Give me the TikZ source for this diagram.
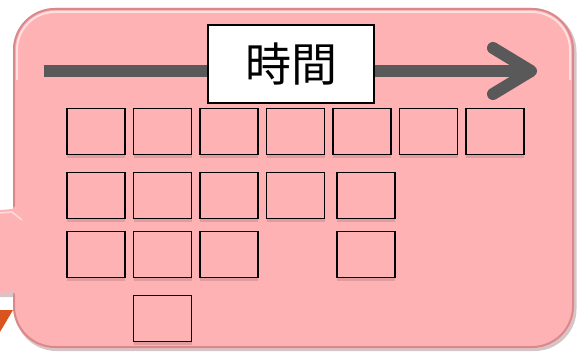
\documentclass[tikz,border=0pt]{standalone}
\usepackage{fontspec}
\newfontfamily\cjk{Noto Sans CJK JP}
\usetikzlibrary{shadows}
\definecolor{pinkfill}{HTML}{FFB2B4}
\definecolor{pinkrim}{HTML}{D9898C}
\definecolor{shadowc}{HTML}{8A5A5C}
\definecolor{arrowgray}{HTML}{595959}
\definecolor{tailorange}{HTML}{D9541E}
\tikzset{
  sq/.style={draw=black, line width=1.5pt, fill=pinkfill, minimum width=58pt, minimum height=46pt, inner sep=0pt,
    drop shadow={shadow xshift=0pt, shadow yshift=-3.5pt, opacity=0.12, fill=black}},
  timelabel/.style={draw=black, line width=1.5pt, fill=white, minimum width=166pt, minimum height=78pt, inner sep=0pt,
    font=\cjk\fontsize{46}{50}\selectfont},
  timeline/.style={arrowgray, line width=12pt},
  chevron/.style={arrowgray, line width=12pt, line cap=round, line join=round}
}
\begin{document}
\begin{tikzpicture}[x=1pt,y=-1pt]
\useasboundingbox (0,0) rectangle (577,355);
\clip (0,0) rectangle (577,355);
% orange fragment
\fill[tailorange] (0,310) -- (13,310) -- (0,332) -- cycle;
% shadows of callout
\fill[shadowc, opacity=0.35, rounded corners=42pt] (14.5,10) rectangle (576.5,351);
\fill[shadowc, opacity=0.35] (-10,214) -- (15,210) -- (15,297) -- (-10,297) -- cycle;
% callout body
\fill[pinkfill, rounded corners=42pt] (13,8) rectangle (574,348);
\draw[pinkrim, line width=2pt, rounded corners=41pt] (14,9) rectangle (573,347);
% callout tail
\fill[pinkfill] (-10,211) -- (12,209) -- (22,200) -- (22,302) -- (13,292) -- (-10,294) -- cycle;
\draw[white, opacity=0.5, line width=1.5pt] (0,213) -- (12,212) -- (22,220);
% top highlight
\draw[white, opacity=0.6, line width=2pt, rounded corners=38pt] (17,80) -- (17,12) -- (570,12) -- (570,80);
% timeline arrow
\coordinate (tstart) at (44,71);
\coordinate (tend) at (531,71);
\coordinate (armtop) at (493,48);
\coordinate (armbot) at (493,94);
\draw[timeline] (tstart) -- (tend);
\draw[chevron] (armtop) -- (tend) -- (armbot);
\node[timelabel] (time) at (291,64) {時間};
% squares row 1
\node[sq] (a1) at (96,131.5) {};
\node[sq] (a2) at (162.5,131.5) {};
\node[sq] (a3) at (229,131.5) {};
\node[sq] (a4) at (295.5,131.5) {};
\node[sq] (a5) at (362,131.5) {};
\node[sq] (a6) at (428.5,131.5) {};
\node[sq] (a7) at (495,131.5) {};
% row 2
\node[sq] (b1) at (96,195.5) {};
\node[sq] (b2) at (162.5,195.5) {};
\node[sq] (b3) at (229,195.5) {};
\node[sq] (b4) at (295.5,195.5) {};
\node[sq] (b5) at (366,195.5) {};
% row 3
\node[sq] (c1) at (96,254.5) {};
\node[sq] (c2) at (162.5,254.5) {};
\node[sq] (c3) at (229,254.5) {};
\node[sq] (c5) at (366,254.5) {};
% row 4
\node[sq] (d2) at (162.5,318.5) {};
\end{tikzpicture}
\end{document}
